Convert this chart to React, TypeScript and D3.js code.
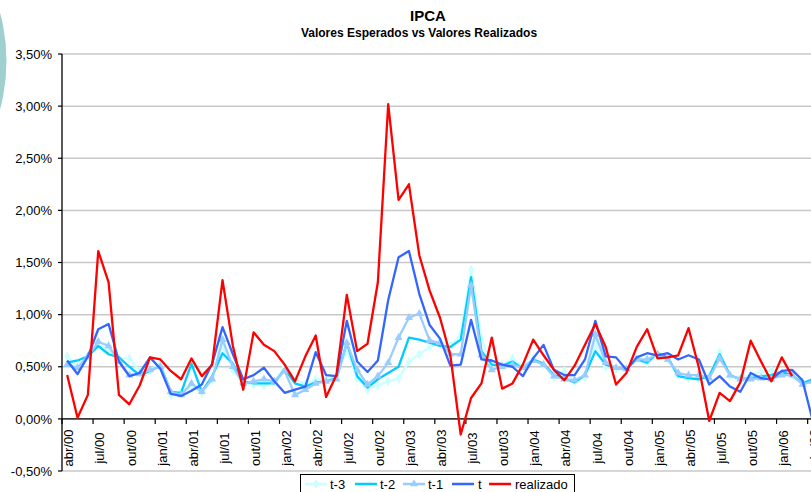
import React from "react";
import * as d3 from "d3";

const categories = [
  "abr/00","mai/00","jun/00","jul/00","ago/00","set/00","out/00","nov/00","dez/00",
  "jan/01","fev/01","mar/01","abr/01","mai/01","jun/01","jul/01","ago/01","set/01","out/01","nov/01","dez/01",
  "jan/02","fev/02","mar/02","abr/02","mai/02","jun/02","jul/02","ago/02","set/02","out/02","nov/02","dez/02",
  "jan/03","fev/03","mar/03","abr/03","mai/03","jun/03","jul/03","ago/03","set/03","out/03","nov/03","dez/03",
  "jan/04","fev/04","mar/04","abr/04","mai/04","jun/04","jul/04","ago/04","set/04","out/04","nov/04","dez/04",
  "jan/05","fev/05","mar/05","abr/05","mai/05","jun/05","jul/05","ago/05","set/05","out/05","nov/05","dez/05",
  "jan/06","fev/06","mar/06","abr/06",
];

const tMinus3 = [
  0.60,0.50,0.60,0.71,0.66,0.58,0.58,0.46,0.46,0.54,
  0.23,0.26,0.31,0.25,0.38,0.70,0.47,0.34,0.33,0.32,
  0.36,0.50,0.38,0.33,0.38,0.38,0.41,0.66,0.39,0.28,
  0.32,0.36,0.39,0.55,0.62,0.69,0.74,0.70,0.81,1.43,
  0.77,0.51,0.51,0.58,0.50,0.58,0.52,0.40,0.46,0.36,
  0.40,0.72,0.50,0.48,0.47,0.58,0.54,0.62,0.57,0.42,
  0.39,0.38,0.41,0.64,0.41,0.39,0.42,0.45,0.46,0.44,
  0.42,0.35,0.38,
];

const tMinus2 = [
  0.54,0.56,0.60,0.70,0.62,0.59,0.50,0.42,0.46,0.51,
  0.26,0.25,0.53,0.26,0.41,0.63,0.53,0.36,0.34,0.34,
  0.34,0.48,0.34,0.31,0.35,0.36,0.39,0.73,0.41,0.30,
  0.38,0.44,0.50,0.78,0.76,0.73,0.70,0.69,0.76,1.36,
  0.65,0.52,0.51,0.55,0.48,0.57,0.53,0.42,0.39,0.35,
  0.42,0.65,0.52,0.49,0.48,0.57,0.54,0.63,0.59,0.41,
  0.39,0.38,0.41,0.62,0.42,0.38,0.39,0.41,0.42,0.45,
  0.42,0.34,0.38,
];

const tMinus1 = [
  0.52,0.49,0.60,0.74,0.70,0.55,0.42,0.43,0.47,0.50,
  0.26,0.23,0.34,0.26,0.38,0.76,0.50,0.34,0.36,0.38,
  0.36,0.46,0.23,0.28,0.34,0.36,0.38,0.73,0.47,0.33,
  0.41,0.54,0.78,0.97,1.01,0.75,0.73,0.62,0.62,1.28,
  0.61,0.47,0.50,0.52,0.49,0.56,0.52,0.41,0.38,0.37,
  0.42,0.81,0.54,0.49,0.48,0.57,0.57,0.62,0.57,0.44,
  0.42,0.42,0.39,0.58,0.42,0.38,0.38,0.39,0.38,0.42,
  0.42,0.33,0.36,
];

const tZero = [
  0.56,0.43,0.60,0.86,0.91,0.55,0.41,0.44,0.59,0.48,
  0.24,0.22,0.27,0.33,0.53,0.88,0.62,0.38,0.42,0.49,
  0.36,0.25,0.28,0.31,0.64,0.42,0.41,0.94,0.55,0.45,
  0.56,1.14,1.55,1.61,1.20,0.90,0.77,0.51,0.52,0.95,
  0.57,0.56,0.52,0.50,0.41,0.58,0.71,0.47,0.42,0.42,
  0.57,0.94,0.60,0.59,0.47,0.59,0.63,0.61,0.63,0.57,
  0.61,0.57,0.33,0.41,0.31,0.26,0.44,0.39,0.38,0.46,
  0.47,0.37,-0.02,
];

const realizado = [
  0.42,0.01,0.23,1.61,1.31,0.23,0.14,0.32,0.59,
  0.57,0.46,0.38,0.58,0.41,0.52,1.33,0.70,0.28,0.83,0.71,0.65,
  0.52,0.36,0.60,0.80,0.21,0.42,1.19,0.65,0.72,1.31,3.02,2.10,
  2.25,1.57,1.23,0.97,0.61,-0.15,0.20,0.34,0.78,0.29,0.34,0.52,
  0.76,0.61,0.47,0.37,0.51,0.71,0.91,0.69,0.33,0.44,0.69,0.86,
  0.58,0.59,0.61,0.87,0.49,-0.02,0.25,0.17,0.35,0.75,0.55,0.36,
  0.59,0.41,
];

const yTicks = [-0.5, 0, 0.5, 1, 1.5, 2, 2.5, 3, 3.5];

const seriesNames = ["t-3", "t-2", "t-1", "t", "realizado"];

const W = 811;
const H = 492;
const FONT = "'Liberation Sans', Arial, Helvetica, sans-serif";

export default function App() {
  const left = 62;
  const right = 818;
  const top = 54;
  const bottom = 471;

  const x = d3.scaleBand<string>().domain(categories).range([left, right]).paddingInner(0).paddingOuter(0);
  const y = d3.scaleLinear().domain([-0.5, 3.5]).range([bottom, top]);
  const bw = x.bandwidth();
  const cx = (i: number) => (x(categories[i]) as number) + bw / 2;

  const line = d3
    .line<number>()
    .x((_, i) => cx(i))
    .y((d) => y(d));

  const series = [
    { name: seriesNames[0], data: tMinus3, color: "#ccffff", width: 2.3, marker: "diamond" },
    { name: seriesNames[1], data: tMinus2, color: "#00ccff", width: 2.3, marker: null },
    { name: seriesNames[2], data: tMinus1, color: "#99ccff", width: 2.3, marker: "triangle" },
    { name: seriesNames[3], data: tZero, color: "#3366ff", width: 2.3, marker: null },
    { name: seriesNames[4], data: realizado, color: "#ff0000", width: 2.3, marker: null },
  ];

  const diamond = d3.symbol().type(d3.symbolDiamond).size(30)() as string;
  const triangle = d3.symbol().type(d3.symbolTriangle).size(28)() as string;
  const markerPath = (m: string | null) => (m === "diamond" ? diamond : m === "triangle" ? triangle : null);

  const fmt = (v: number) => v.toFixed(2).replace(".", ",") + "%";

  const tickIdx = categories.map((_, i) => i).filter((i) => i % 3 === 0);
  const y0 = y(0);

  // legend layout
  const legendItems = [
    { s: series[0], lx: 305, tx: 330 },
    { s: series[1], lx: 355, tx: 380 },
    { s: series[2], lx: 403, tx: 428 },
    { s: series[3], lx: 452, tx: 478 },
    { s: series[4], lx: 489, tx: 515 },
  ];
  const legY = 484;

  return (
    <svg
      width={W}
      height={H}
      viewBox={`0 0 ${W} ${H}`}
      style={{ position: "absolute", left: 0, top: 0, background: "#fff" }}
      fontFamily={FONT}
    >
      <rect x={0} y={0} width={W} height={H} fill="#fff" />
      <circle cx={-177.5} cy={61} r={184} fill="#9fcfcf" />

      {/* titles */}
      <text x={428} y={21} textAnchor="middle" fontWeight="bold" fontSize={15}>
        IPCA
      </text>
      <text x={419} y={37} textAnchor="middle" fontWeight="bold" fontSize={12}>
        Valores Esperados vs Valores Realizados
      </text>

      {/* gridlines */}
      {yTicks.map((t) => (
        <line key={"g" + t} x1={left} x2={right} y1={y(t)} y2={y(t)} stroke="#c8c8c8" strokeWidth={1.5} />
      ))}

      {/* y axis */}
      <line x1={left} x2={left} y1={top} y2={bottom} stroke="#000" strokeWidth={1.3} />
      {yTicks.map((t) => (
        <g key={"yt" + t}>
          <line x1={left - 4} x2={left} y1={y(t)} y2={y(t)} stroke="#000" strokeWidth={1.2} />
          <text x={52} y={y(t)} dy="0.36em" textAnchor="end" fontSize={13}>
            {fmt(t)}
          </text>
        </g>
      ))}

      {/* x axis at zero */}
      <line x1={left} x2={right} y1={y0} y2={y0} stroke="#000" strokeWidth={1.3} />
      {tickIdx.map((i) => (
        <line
          key={"xt" + i}
          x1={x(categories[i]) as number}
          x2={x(categories[i]) as number}
          y1={y0}
          y2={y0 + 5}
          stroke="#000"
          strokeWidth={1.2}
        />
      ))}
      {tickIdx.map((i) => (
        <text
          key={"xl" + i}
          transform={`translate(${cx(i) + 1.5},448) rotate(-90)`}
          textAnchor="middle"
          dy="0.36em"
          fontSize={13}
        >
          {categories[i]}
        </text>
      ))}

      {/* series */}
      {series.map((s) => (
        <g key={s.name}>
          <path d={line(s.data) as string} fill="none" stroke={s.color} strokeWidth={s.width} strokeLinejoin="round" />
          {markerPath(s.marker) &&
            s.data.map((v, i) => (
              <path key={i} d={markerPath(s.marker) as string} transform={`translate(${cx(i)},${y(v)})`} fill={s.color} />
            ))}
        </g>
      ))}

      {/* legend */}
      <rect x={300.5} y={474.5} width={274} height={30} fill="#fff" stroke="#000" strokeWidth={1} />
      {legendItems.map(({ s, lx, tx }) => (
        <g key={"lg" + s.name}>
          <line x1={lx} x2={lx + 22} y1={legY} y2={legY} stroke={s.color} strokeWidth={2.5} />
          {markerPath(s.marker) && (
            <path d={markerPath(s.marker) as string} transform={`translate(${lx + 11},${legY})`} fill={s.color} />
          )}
          <text x={tx} y={legY} dy="0.36em" fontSize={13}>
            {s.name}
          </text>
        </g>
      ))}
    </svg>
  );
}
